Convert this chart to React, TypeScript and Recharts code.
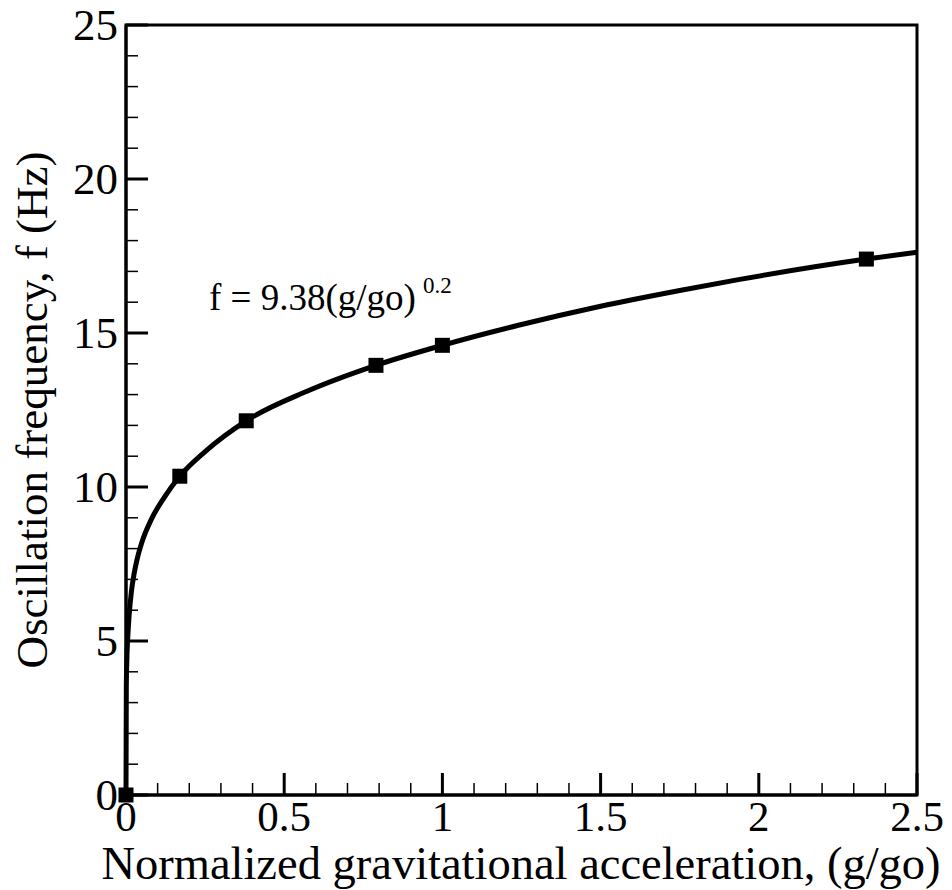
import React from 'react';
import { ComposedChart, Line, Scatter, XAxis, YAxis, ReferenceArea } from 'recharts';

// fitted curve
const curveG = [0, 0.001, 0.003, 0.006, 0.01, 0.017, 0.025, 0.035, 0.05, 0.08, 0.12, 0.17, 0.25, 0.38, 0.57, 0.79, 1.0, 1.24, 1.5, 1.75, 1.94, 2.34, 2.5];
const curveF = [0, 3.5, 4.5, 5.2, 5.85, 6.6, 7.15, 7.65, 8.2, 8.95, 9.65, 10.35, 11.15, 12.15, 13.1, 13.95, 14.6, 15.25, 15.87, 16.38, 16.74, 17.4, 17.62];

// measured points
const measuredG = [0, 0.17, 0.38, 0.79, 1.0, 2.34];
const measuredF = [0, 10.35, 12.15, 13.95, 14.6, 17.4];

const xTicks = [0, 0.1, 0.2, 0.3, 0.4, 0.5, 0.6, 0.7, 0.8, 0.9, 1, 1.1, 1.2, 1.3, 1.4, 1.5, 1.6, 1.7, 1.8, 1.9, 2, 2.1, 2.2, 2.3, 2.4, 2.5];
const xMajor = [0, 0.5, 1, 1.5, 2, 2.5];
const yTicks = [0, 1, 2, 3, 4, 5, 6, 7, 8, 9, 10, 11, 12, 13, 14, 15, 16, 17, 18, 19, 20, 21, 22, 23, 24, 25];
const yMajor = [0, 5, 10, 15, 20, 25];

const xTitle = 'Normalized gravitational acceleration, (g/go)';
const yTitle = 'Oscillation frequency, f (Hz)';
const fitText = 'f = 9.38(g/go)';
const fitExp = '0.2';

const FONT = 'Liberation Serif, Tinos, "Times New Roman", serif';

const curveData = curveG.map((g, i) => ({ g, f: curveF[i] }));
const pointData = measuredG.map((g, i) => ({ g, f: measuredF[i] }));

const isMajor = (list: number[], v: number) => list.some(m => Math.abs(m - v) < 1e-6);

const XTick = (props: any) => {
  const { x, y, payload } = props;
  const major = isMajor(xMajor, payload.value);
  return (
    <g>
      <line x1={x} x2={x} y1={y} y2={y - (major ? 22 : 12)} stroke="#000" strokeWidth={major ? 3 : 1.5} />
      {major && (
        <text x={x} y={y + 36} textAnchor="middle" fontFamily="Liberation Serif" fontSize={43} fill="#000">
          {payload.value}
        </text>
      )}
    </g>
  );
};

const YTick = (props: any) => {
  const { x, y, payload } = props;
  const major = isMajor(yMajor, payload.value);
  return (
    <g>
      <line x1={x} x2={x + (major ? 22 : 12)} y1={y} y2={y} stroke="#000" strokeWidth={major ? 3 : 1.5} />
      {major && (
        <text x={x - 8} y={y + 15} textAnchor="end" fontFamily="Liberation Serif" fontSize={45} fill="#000">
          {payload.value}
        </text>
      )}
    </g>
  );
};

const Square = (props: any) => {
  const { cx, cy } = props;
  return <rect x={cx - 7.5} y={cy - 7.5} width={15} height={15} fill="#000" />;
};

export default function App() {
  return (
    <div style={{ position: 'absolute', left: 0, top: 0, width: 952, height: 890, background: '#fff', fontFamily: FONT }}>
      <ComposedChart width={952} height={890} margin={{ top: 25, right: 35, bottom: 0, left: 26 }} style={{ fontFamily: FONT }}>
        <XAxis
          dataKey="g"
          type="number"
          domain={[0, 2.5]}
          ticks={xTicks}
          interval={0}
          height={95}
          tickSize={0}
          tickMargin={0}
          axisLine={{ stroke: '#000', strokeWidth: 3 }}
          tick={<XTick />}
        />
        <YAxis
          dataKey="f"
          type="number"
          domain={[0, 25]}
          ticks={yTicks}
          interval={0}
          width={100}
          tickSize={0}
          tickMargin={0}
          axisLine={{ stroke: '#000', strokeWidth: 3 }}
          tick={<YTick />}
        />
        <ReferenceArea x1={0} x2={2.5} y1={0} y2={25} fill="none" fillOpacity={0} stroke="#000" strokeWidth={3} strokeOpacity={1} ifOverflow="visible" />
        <Line data={curveData} dataKey="f" type="monotone" stroke="#000" strokeWidth={5} dot={false} isAnimationActive={false} />
        <Scatter data={pointData} dataKey="f" fill="#000" shape={<Square />} isAnimationActive={false} />
      </ComposedChart>
      <svg width={952} height={890} style={{ position: 'absolute', left: 0, top: 0, pointerEvents: 'none' }}>
        <text x={209} y={310} fontFamily="Liberation Serif" fontSize={37} fill="#000">{fitText}</text>
        <text x={423} y={293} fontFamily="Liberation Serif" fontSize={23} fill="#000">{fitExp}</text>
        <text x={521} y={879} textAnchor="middle" fontFamily="Liberation Serif" fontSize={46.5} fill="#000">{xTitle}</text>
        <text transform="translate(47, 410) rotate(-90)" textAnchor="middle" fontFamily="Liberation Serif" fontSize={45} fill="#000">{yTitle}</text>
      </svg>
    </div>
  );
}
